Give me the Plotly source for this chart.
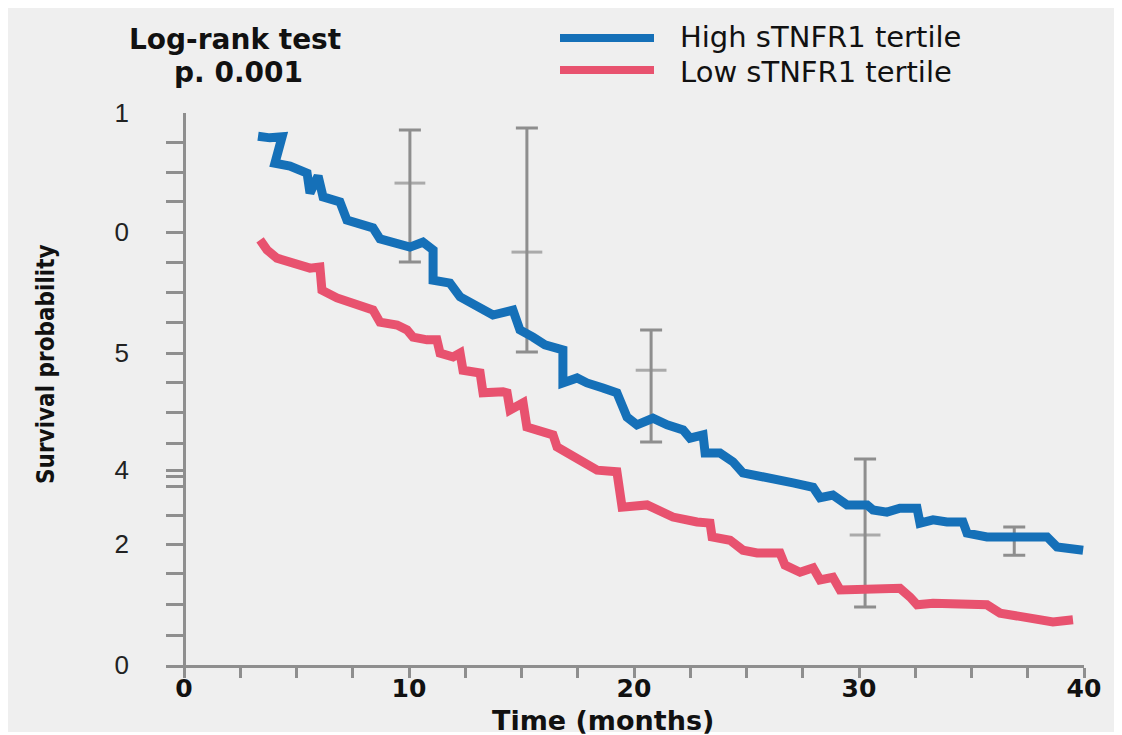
import plotly.graph_objects as go

# ---------------- data ----------------
high_time = [3.29, 3.82, 4.36, 4.04, 4.71, 5.16, 5.47, 5.60, 5.96, 6.18, 6.93, 7.24, 7.82, 8.40,
             8.71, 9.60, 10.04, 10.62, 11.07, 11.07, 11.82, 12.27, 13.16, 13.73, 14.62, 14.93,
             15.51, 16.04, 16.84, 16.84, 17.47, 17.91, 18.62, 19.24, 19.69, 20.13, 20.84, 21.47,
             22.18, 22.49, 23.07, 23.16, 23.82, 24.40, 24.84, 25.91, 27.07, 27.96, 28.27, 28.84,
             29.47, 30.36, 30.62, 31.24, 31.82, 32.58, 32.71, 33.29, 33.91, 34.62, 34.80, 35.69,
             37.02, 38.36, 38.80, 39.51, 39.96]
high_surv = [0.958, 0.955, 0.957, 0.909, 0.904, 0.897, 0.891, 0.855, 0.886, 0.848, 0.839, 0.806,
             0.801, 0.792, 0.772, 0.764, 0.757, 0.766, 0.752, 0.697, 0.692, 0.667, 0.649, 0.634,
             0.643, 0.607, 0.594, 0.580, 0.571, 0.511, 0.520, 0.511, 0.502, 0.493, 0.449, 0.435,
             0.447, 0.435, 0.426, 0.411, 0.417, 0.384, 0.384, 0.368, 0.348, 0.341, 0.330, 0.322,
             0.303, 0.308, 0.290, 0.290, 0.281, 0.277, 0.284, 0.284, 0.257, 0.263, 0.259, 0.259,
             0.239, 0.232, 0.232, 0.232, 0.214, 0.208, 0.208]

low_time = [3.38, 3.69, 4.13, 5.02, 5.60, 6.04, 6.13, 6.80, 7.51, 8.40, 8.71, 9.47, 9.91, 10.18,
            10.80, 11.24, 11.38, 11.96, 12.27, 12.40, 13.16, 13.29, 14.18, 14.36, 14.49, 15.07,
            15.24, 15.82, 16.40, 16.58, 17.02, 17.60, 18.36, 19.24, 19.47, 20.58, 21.02, 21.73,
            22.80, 23.38, 23.47, 24.27, 24.84, 25.47, 26.49, 26.71, 27.38, 27.96, 28.27, 28.84,
            29.16, 30.36, 31.82, 32.27, 32.58, 33.29, 34.49, 35.69, 36.27, 37.47, 38.62, 39.51]
low_surv = [0.770, 0.752, 0.737, 0.728, 0.719, 0.721, 0.679, 0.665, 0.656, 0.643, 0.621, 0.616,
            0.607, 0.594, 0.589, 0.589, 0.565, 0.558, 0.565, 0.534, 0.529, 0.493, 0.495, 0.493,
            0.462, 0.475, 0.431, 0.422, 0.417, 0.395, 0.384, 0.368, 0.353, 0.350, 0.286, 0.290,
            0.281, 0.268, 0.259, 0.257, 0.232, 0.226, 0.208, 0.203, 0.203, 0.181, 0.168, 0.176,
            0.154, 0.159, 0.136, 0.139, 0.139, 0.123, 0.109, 0.112, 0.109, 0.109, 0.094, 0.087,
            0.078, 0.082]

eb_time = [10.04, 15.24, 20.76, 30.27, 36.9]
eb_mid = [0.873, 0.748, 0.534, 0.2355, 0.2246]
eb_upper = [0.969, 0.973, 0.607, 0.373, 0.250]
eb_lower = [0.730, 0.567, 0.404, 0.105, 0.199]
eb_mid_tick = [True, True, True, True, False]

x_tick_vals = [0, 2.5, 5, 7.5, 10, 12.5, 15, 17.5, 20, 22.5, 25, 27.5, 30, 32.5, 35, 37.5, 40]
x_tick_text = ["0", "", "", "", "10", "", "", "", "20", "", "", "", "30", "", "", "", "40"]

y_tick_vals = [0, 0.054, 0.109, 0.165, 0.219, 0.270, 0.324, 0.342, 0.353, 0.402, 0.457, 0.511,
               0.565, 0.620, 0.674, 0.730, 0.784, 0.839, 0.893, 0.947, 1.0]
y_tick_text = ["0", "", "", "", "2", "", "", "", "4", "", "", "", "5", "", "", "", "0", "", "", "", "1"]

series_names = ["High sTNFR1 tertile", "Low sTNFR1 tertile"]
title_lines = ["Log-rank test", "p. 0.001"]

# ---------------- style ----------------
BLUE = "#1570b8"
RED = "#e8526f"
GRAY = "#8e8e8e"
BG = "#efefef"

OFF = 8  # page body margin
W, H = 1106, 727
L, R, T, B = 158, 30, 105, 70
PW, PH = W - L - R, H - T - B


def px_x(px):
    return (px - OFF - L) / PW


def px_y(py):
    return (H - B - (py - OFF)) / PH


fig = go.Figure()

fig.add_trace(go.Scatter(
    x=eb_time, y=eb_mid, mode="markers",
    marker=dict(symbol="line-ew", size=[22 if m else 0 for m in eb_mid_tick],
                line=dict(width=3, color=GRAY), color=GRAY),
    error_y=dict(type="data", symmetric=False,
                 array=[u - m for u, m in zip(eb_upper, eb_mid)],
                 arrayminus=[m - lo for m, lo in zip(eb_mid, eb_lower)],
                 color=GRAY, thickness=3, width=11),
    showlegend=False, hoverinfo="skip"))

fig.add_trace(go.Scatter(x=low_time, y=low_surv, mode="lines", name=series_names[1],
                         line=dict(color=RED, width=9), showlegend=False))
fig.add_trace(go.Scatter(x=high_time, y=high_surv, mode="lines", name=series_names[0],
                         line=dict(color=BLUE, width=9), showlegend=False))

shapes = [
    dict(type="line", xref="paper", yref="paper", x0=px_x(560), x1=px_x(654), y0=px_y(38), y1=px_y(38),
         line=dict(color=BLUE, width=8)),
    dict(type="line", xref="paper", yref="paper", x0=px_x(560), x1=px_x(654), y0=px_y(70), y1=px_y(70),
         line=dict(color=RED, width=8)),
    # thin white strip at the very bottom, as in the reference
    dict(type="rect", xref="paper", yref="paper", x0=px_x(0), x1=px_x(1122), y0=px_y(735), y1=px_y(732),
         fillcolor="white", line=dict(width=0), layer="above"),
]

annotations = [
    dict(text=title_lines[0], x=px_x(235), y=px_y(39), xref="paper", yref="paper", showarrow=False,
         xanchor="center", yanchor="middle",
         font=dict(family="DejaVu Sans", size=28, color="#111", weight="bold")),
    dict(text=title_lines[1], x=px_x(238), y=px_y(73), xref="paper", yref="paper", showarrow=False,
         xanchor="center", yanchor="middle",
         font=dict(family="DejaVu Sans", size=28, color="#111", weight="bold")),
    dict(text=series_names[0], x=px_x(678), y=px_y(37), xref="paper", yref="paper", showarrow=False,
         xanchor="left", yanchor="middle",
         font=dict(family="DejaVu Sans", size=29, color="#111")),
    dict(text=series_names[1], x=px_x(678), y=px_y(72), xref="paper", yref="paper", showarrow=False,
         xanchor="left", yanchor="middle",
         font=dict(family="DejaVu Sans", size=29, color="#111")),
    dict(text="Survival probability", x=px_x(46), y=px_y(364), xref="paper", yref="paper",
         showarrow=False, textangle=-90, xanchor="center", yanchor="middle",
         font=dict(family="Liberation Sans Narrow, DejaVu Sans Condensed, Arial Narrow", size=24,
                   color="#111", weight="bold")),
    dict(text="Time (months)", x=px_x(603), y=px_y(720), xref="paper", yref="paper",
         showarrow=False, xanchor="center", yanchor="middle",
         font=dict(family="DejaVu Sans", size=27, color="#111", weight="bold")),
]

fig.update_layout(
    width=W, height=H,
    margin=dict(l=L, r=R, t=T, b=B, pad=0),
    paper_bgcolor=BG, plot_bgcolor=BG,
    shapes=shapes, annotations=annotations,
    xaxis=dict(range=[-0.8, 40], tickmode="array", tickvals=x_tick_vals, ticktext=x_tick_text,
               ticks="outside", ticklen=10, tickwidth=3, tickcolor=GRAY,
               showline=True, linecolor=GRAY, linewidth=3,
               zeroline=True, zerolinecolor=GRAY, zerolinewidth=3,
               showgrid=False, fixedrange=True, ticklabelstandoff=-11,
               tickfont=dict(family="DejaVu Sans", size=25, color="#111", weight="bold")),
    yaxis=dict(range=[0, 1], tickmode="array", tickvals=y_tick_vals, ticktext=y_tick_text,
               ticks="inside", ticklen=18, tickwidth=3, tickcolor=GRAY,
               showline=False, zeroline=False, showgrid=False, fixedrange=True,
               ticklabelstandoff=36,
               tickfont=dict(family="Liberation Sans, Arial", size=26, color="#222")),
)

fig.write_html("out.html")
